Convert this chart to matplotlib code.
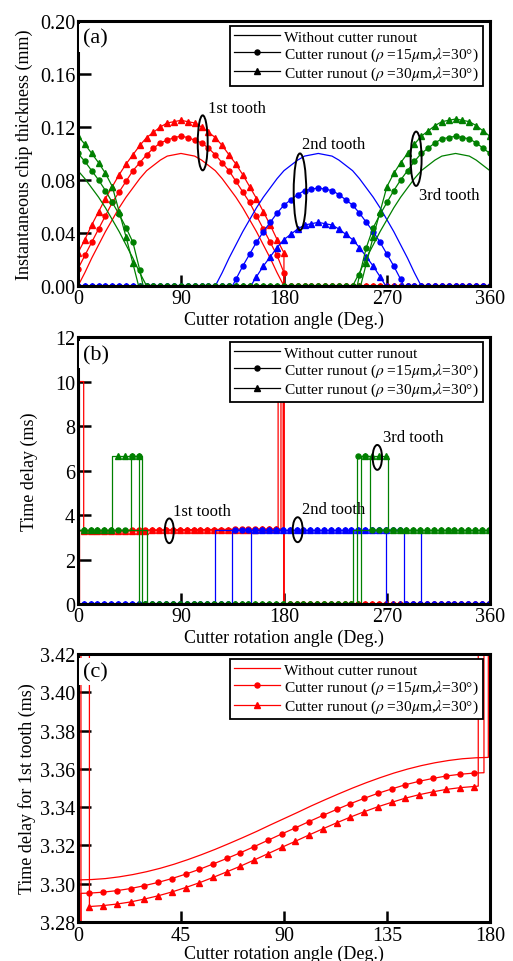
import numpy as np
import matplotlib
matplotlib.use("Agg")
import matplotlib.pyplot as plt
from matplotlib.lines import Line2D
from matplotlib.patches import Ellipse

plt.rcParams["font.family"] = ["Liberation Serif", "DejaVu Serif"]
plt.rcParams["mathtext.fontset"] = "stix"

RED, BLUE, GREEN = "#ff0000", "#0000ff", "#008000"
STEP = 6  # marker spacing, deg

# ---- (a) instantaneous chip thickness (mm) ----
t1_ang = list(range(0, 181, 6))
t1_none = [0.000, 0.010, 0.021, 0.031, 0.041, 0.050, 0.059, 0.067, 0.074, 0.081, 0.087,
           0.091, 0.095, 0.098, 0.099, 0.100, 0.099, 0.098, 0.095, 0.091, 0.087, 0.081,
           0.074, 0.067, 0.059, 0.050, 0.041, 0.031, 0.021, 0.010, 0.000]
t1_r15 = [0.013, 0.023, 0.033, 0.043, 0.053, 0.063, 0.071, 0.079, 0.087, 0.093, 0.099,
          0.104, 0.108, 0.110, 0.112, 0.113, 0.112, 0.110, 0.108, 0.104, 0.099, 0.093,
          0.087, 0.079, 0.071, 0.063, 0.053, 0.043, 0.033, 0.023, 0.010]
t1_r30 = [0.025, 0.035, 0.046, 0.056, 0.066, 0.075, 0.084, 0.092, 0.099, 0.106, 0.112,
          0.116, 0.120, 0.123, 0.124, 0.125, 0.124, 0.123, 0.120, 0.116, 0.112, 0.106,
          0.099, 0.092, 0.084, 0.075, 0.066, 0.056, 0.046, 0.035, 0.025]

t2_ang = list(range(120, 301, 6))
t2_none = [0.000, 0.010, 0.021, 0.031, 0.041, 0.050, 0.059, 0.067, 0.074, 0.081, 0.087,
           0.091, 0.095, 0.098, 0.099, 0.100, 0.099, 0.098, 0.095, 0.091, 0.087, 0.081,
           0.074, 0.067, 0.059, 0.050, 0.041, 0.031, 0.021, 0.010, 0.000]
t2_r15_ang = [135] + list(range(138, 283, 6)) + [285]
t2_r15 = [0.0, 0.005, 0.015, 0.024, 0.033, 0.041, 0.048, 0.055, 0.061, 0.065, 0.069, 0.072,
          0.073, 0.074, 0.073, 0.072, 0.069, 0.065, 0.061, 0.055, 0.048, 0.041, 0.033,
          0.024, 0.015, 0.005, 0.0]
t2_r30_ang = [151] + list(range(156, 265, 6)) + [269]
t2_r30 = [0.0, 0.007, 0.015, 0.022, 0.029, 0.035, 0.039, 0.043, 0.046, 0.047, 0.048,
          0.047, 0.046, 0.043, 0.039, 0.035, 0.029, 0.022, 0.015, 0.007, 0.0]

t3_ang_a = list(range(0, 61, 6))
t3_none_a = [0.087, 0.081, 0.074, 0.067, 0.059, 0.050, 0.041, 0.031, 0.021, 0.010, 0.000]
t3_ang_b = list(range(240, 361, 6))
t3_none_b = [0.000, 0.010, 0.021, 0.031, 0.041, 0.050, 0.059, 0.067, 0.074, 0.081, 0.087,
             0.091, 0.095, 0.098, 0.099, 0.100, 0.099, 0.098, 0.095, 0.091, 0.087]
t3_r15_ang_a = list(range(0, 55, 6)) + [57]
t3_r15_a = [0.100, 0.094, 0.087, 0.080, 0.072, 0.063, 0.054, 0.044, 0.033, 0.012, 0.0]
t3_r15_ang_b = [244] + list(range(246, 361, 6))
t3_r15_b = [0.0, 0.008, 0.029, 0.044, 0.054, 0.063, 0.072, 0.080, 0.087, 0.094, 0.100,
            0.104, 0.108, 0.111, 0.112, 0.113, 0.112, 0.111, 0.108, 0.104, 0.100]
t3_r30_ang_a = list(range(0, 49, 6)) + [53]
t3_r30_a = [0.113, 0.107, 0.100, 0.093, 0.085, 0.075, 0.056, 0.037, 0.017, 0.0]
t3_r30_ang_b = [247] + list(range(252, 361, 6))
t3_r30_b = [0.0, 0.017, 0.037, 0.056, 0.075, 0.085, 0.093, 0.100, 0.107, 0.113, 0.117,
            0.121, 0.124, 0.125, 0.126, 0.125, 0.124, 0.121, 0.117, 0.113]

# ---- (b)/(c) time delay (ms) ----
d1_none_ang = list(range(0, 175, 6)) + [179.3]
d1_none = [3.3020, 3.3022, 3.3027, 3.3036, 3.3048, 3.3063, 3.3081, 3.3102, 3.3126, 3.3152,
           3.3180, 3.3210, 3.3241, 3.3273, 3.3307, 3.3340, 3.3373, 3.3407, 3.3439, 3.3470,
           3.3500, 3.3528, 3.3554, 3.3578, 3.3599, 3.3617, 3.3632, 3.3644, 3.3653, 3.3658,
           3.3660]
d1_ang = list(range(5, 174, 6))
d1_r15 = [3.2951, 3.2956, 3.2964, 3.2975, 3.2990, 3.3007, 3.3027, 3.3050, 3.3075, 3.3103,
          3.3132, 3.3162, 3.3194, 3.3227, 3.3260, 3.3292, 3.3325, 3.3357, 3.3388, 3.3418,
          3.3446, 3.3472, 3.3495, 3.3517, 3.3535, 3.3550, 3.3563, 3.3572, 3.3578]
d1_r30 = [3.2881, 3.2886, 3.2894, 3.2905, 3.2920, 3.2937, 3.2957, 3.2980, 3.3005, 3.3033,
          3.3062, 3.3092, 3.3124, 3.3157, 3.3190, 3.3222, 3.3255, 3.3287, 3.3318, 3.3348,
          3.3376, 3.3402, 3.3425, 3.3447, 3.3465, 3.3480, 3.3493, 3.3502, 3.3508]
spike = 10.0
one_period, two_period = 3.33, 6.67


def assemble(pieces, phase):
    xs, ys, mx, my = [], [], [], []
    for piece in pieces:
        if piece[0] == "flat":
            _, a0, a1, level = piece
            xs += [a0, a1]
            ys += [level, level]
            k = np.arange(np.ceil((a0 - phase) / STEP), np.floor((a1 - phase) / STEP) + 1)
            grid = phase + STEP * k
            mx += list(grid)
            my += [level] * len(grid)
        else:
            _, ang, val = piece
            xs += list(ang)
            ys += list(val)
            for a, v in zip(ang, val):
                r = (a - phase) / STEP
                if abs(r - round(r)) < 1e-6:
                    mx.append(a)
                    my.append(v)
    return xs, ys, mx, my


def draw(ax, pieces, color, marker, phase):
    xs, ys, mx, my = assemble(pieces, phase)
    ax.plot(xs, ys, color=color, lw=0.9)
    if marker:
        ms = 3.6 if marker == "o" else 4.2
        ax.plot(mx, my, ls="none", marker=marker, ms=ms, color=color, mec=color)


series_a = [
    (RED, None, [("pts", t1_ang, t1_none), ("flat", 180, 360, 0.0)]),
    (RED, "o", [("pts", t1_ang, t1_r15), ("flat", 180, 360, 0.0)]),
    (RED, "^", [("pts", t1_ang, t1_r30), ("flat", 180, 360, 0.0)]),
    (BLUE, None, [("flat", 0, 120, 0.0), ("pts", t2_ang, t2_none), ("flat", 300, 360, 0.0)]),
    (BLUE, "o", [("flat", 0, 135, 0.0), ("pts", t2_r15_ang, t2_r15), ("flat", 285, 360, 0.0)]),
    (BLUE, "^", [("flat", 0, 151, 0.0), ("pts", t2_r30_ang, t2_r30), ("flat", 269, 360, 0.0)]),
    (GREEN, None, [("pts", t3_ang_a, t3_none_a), ("flat", 60, 240, 0.0),
                   ("pts", t3_ang_b, t3_none_b)]),
    (GREEN, "o", [("pts", t3_r15_ang_a, t3_r15_a), ("flat", 57, 244, 0.0),
                  ("pts", t3_r15_ang_b, t3_r15_b)]),
    (GREEN, "^", [("pts", t3_r30_ang_a, t3_r30_a), ("flat", 53, 247, 0.0),
                  ("pts", t3_r30_ang_b, t3_r30_b)]),
]

red_delay = [
    (RED, None, [("pts", d1_none_ang, d1_none), ("pts", [179.3, 180], [spike, spike]),
                 ("flat", 180, 360, 0.0)]),
    (RED, "o", [("flat", 0, 1.3, 0.0), ("pts", [1.3], [3.295]), ("pts", d1_ang, d1_r15),
                ("pts", [177.4, 177.4, 180], [3.358, spike, spike]), ("flat", 180, 360, 0.0)]),
    (RED, "^", [("flat", 0, 1.3, 0.0), ("pts", [1.3, 4.99], [spike, spike]),
                ("pts", d1_ang, d1_r30),
                ("pts", [174.9, 174.9, 180], [3.351, spike, spike]), ("flat", 180, 360, 0.0)]),
]
series_b = red_delay + [
    (BLUE, None, [("flat", 0, 120, 0.0), ("flat", 120, 300, one_period), ("flat", 300, 360, 0.0)]),
    (BLUE, "o", [("flat", 0, 135, 0.0), ("flat", 135, 285, one_period), ("flat", 285, 360, 0.0)]),
    (BLUE, "^", [("flat", 0, 151, 0.0), ("flat", 151, 269, one_period), ("flat", 269, 360, 0.0)]),
    (GREEN, None, [("flat", 0, 60, one_period), ("flat", 60, 240, 0.0),
                   ("flat", 240, 360, one_period)]),
    (GREEN, "o", [("flat", 0, 46, one_period), ("flat", 46, 56, two_period),
                  ("flat", 56, 244, 0.0), ("flat", 244, 255, two_period),
                  ("flat", 255, 360, one_period)]),
    (GREEN, "^", [("flat", 0, 30, one_period), ("flat", 30, 53, two_period),
                  ("flat", 53, 247, 0.0), ("flat", 247, 271, two_period),
                  ("flat", 271, 360, one_period)]),
]

labels = ["Without cutter runout",
          r"Cutter runout ($\rho$ =15$\mu$m,$\lambda$=30°)",
          r"Cutter runout ($\rho$ =30$\mu$m,$\lambda$=30°)"]


def style(ax, xticks, yticks, yfmt, letter, ylabel, ylab_x, xlab_y):
    for sp in ax.spines.values():
        sp.set_linewidth(2.2)
    ax.set_xticks(xticks)
    ax.set_yticks(yticks)
    ax.set_yticklabels([yfmt.format(v) for v in yticks])
    ax.tick_params(direction="in", labelsize=14.5, top=False, right=False)
    ax.tick_params(axis="y", length=9, width=1.8, pad=2)
    ax.tick_params(axis="x", length=8, width=1.8, pad=2.5)
    ax.set_xlabel("Cutter rotation angle (Deg.)", fontsize=13)
    ax.set_ylabel(ylabel, fontsize=13)
    ax.yaxis.set_label_coords(ylab_x, 0.5)
    ax.xaxis.set_label_coords(0.5, xlab_y)
    ax.text(0.012, 0.935, letter, transform=ax.transAxes, fontsize=16, va="center",
            ha="left", zorder=6,
            bbox=dict(facecolor="white", edgecolor="none", pad=3))


def legend(ax, color):
    handles = [Line2D([], [], color=color, lw=0.9),
               Line2D([], [], color=color, lw=0.9, marker="o", ms=3.6),
               Line2D([], [], color=color, lw=0.9, marker="^", ms=4.2)]
    leg = ax.legend(handles, labels, loc="upper right", bbox_to_anchor=(0.983, 0.981),
                    fontsize=11.1, frameon=True, fancybox=False, framealpha=1,
                    edgecolor="black", borderpad=0.25, handlelength=3.0,
                    handletextpad=0.3, labelspacing=0.12, borderaxespad=0)
    leg.get_frame().set_linewidth(1.3)


def tag(ax, text, tx, ty, ex, ey, ew, eh):
    ax.text(tx, ty, text, fontsize=12, ha="left", va="center")
    ax.add_patch(Ellipse((ex, ey), ew, eh, fill=False, edgecolor="black", lw=1.4, zorder=4))


fig = plt.figure(figsize=(5.13, 9.62), dpi=100)
ax_a = fig.add_axes([0.152, 0.7017, 0.803, 0.2755])
ax_b = fig.add_axes([0.152, 0.3711, 0.803, 0.2775])
ax_c = fig.add_axes([0.152, 0.0405, 0.803, 0.2786])

for color, marker, pieces in series_a:
    draw(ax_a, pieces, color, marker, 0)
ax_a.set_xlim(0, 360)
ax_a.set_ylim(0, 0.2)
style(ax_a, [0, 90, 180, 270, 360], [0, 0.04, 0.08, 0.12, 0.16, 0.20], "{:.2f}", "(a)",
      "Instantaneous chip thickness (mm)", -0.109, -0.092)
legend(ax_a, "black")
tag(ax_a, "1st tooth", 113.6, 0.134, 109, 0.108, 8.7, 0.0415)
tag(ax_a, "2nd tooth", 196, 0.1075, 194, 0.071, 11, 0.058)
tag(ax_a, "3rd tooth", 298, 0.0687, 295.5, 0.096, 9.6, 0.041)

for color, marker, pieces in series_b:
    draw(ax_b, pieces, color, marker, 5)
ax_b.set_xlim(0, 360)
ax_b.set_ylim(0, 12)
style(ax_b, [0, 90, 180, 270, 360], [0, 2, 4, 6, 8, 10, 12], "{:d}", "(b)",
      "Time delay (ms)", -0.097, -0.092)
legend(ax_b, "black")
tag(ax_b, "1st tooth", 83, 4.2, 79.8, 3.29, 7.9, 1.11)
tag(ax_b, "2nd tooth", 196, 4.27, 192, 3.34, 8.7, 1.12)
tag(ax_b, "3rd tooth", 266.5, 7.49, 261.6, 6.59, 8.2, 1.12)

for color, marker, pieces in red_delay:
    draw(ax_c, pieces, color, marker, 5)
ax_c.set_xlim(0, 180)
ax_c.set_ylim(3.28, 3.42)
style(ax_c, [0, 45, 90, 135, 180], [3.28, 3.30, 3.32, 3.34, 3.36, 3.38, 3.40, 3.42],
      "{:.2f}", "(c)", "Time delay for 1st tooth (ms)", -0.102, -0.085)
legend(ax_c, RED)

fig.savefig("out.png", dpi=100)
